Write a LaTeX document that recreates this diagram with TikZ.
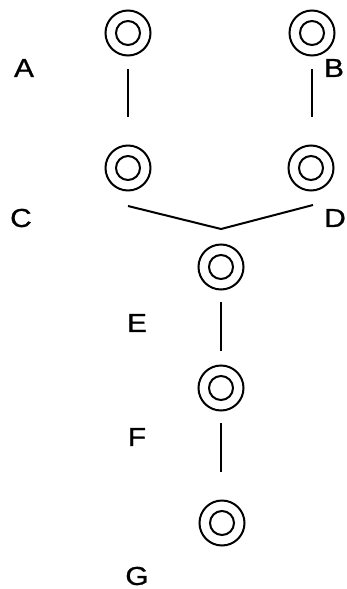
\documentclass[tikz,border=0pt]{standalone}
\usepackage{fontspec}
\setmainfont{Liberation Sans}
\newfontfamily\lblfont[FakeBold=0.8]{Liberation Sans}
\begin{document}
\begin{tikzpicture}[x=1pt,y=-1pt,
  ring/.style={circle,draw,line width=2pt,minimum size=45pt,inner sep=0pt,
    path picture={\draw[line width=2pt] (path picture bounding box.center) circle (12pt);}},
  lbl/.style={font=\lblfont\fontsize{26}{26}\selectfont,inner sep=0pt},
  conn/.style={line width=2pt}]
\useasboundingbox (0,0) rectangle (347,589);
\node[ring] (A) at (128,33) {};
\node[ring] (B) at (312,33) {};
\node[ring] (C) at (128,168) {};
\node[ring] (D) at (311,168) {};
\node[ring] (E) at (221,267) {};
\node[ring] (F) at (221,388) {};
\node[ring] (G) at (222,523) {};
\node[lbl] (la) at (24,68) {\scalebox{1.15}[1]{A}};
\node[lbl] (lb) at (334,68) {\scalebox{1.15}[1]{B}};
\node[lbl] (lc) at (21,218) {\scalebox{1.15}[1]{C}};
\node[lbl] (ld) at (335,218) {\scalebox{1.15}[1]{D}};
\node[lbl] (le) at (137,323) {\scalebox{1.15}[1]{E}};
\node[lbl] (lf) at (137,437) {\scalebox{1.15}[1]{F}};
\node[lbl] (lg) at (137,576) {\scalebox{1.15}[1]{G}};
\coordinate (a1) at (128,69); \coordinate (a2) at (128,117);
\coordinate (b1) at (312,69); \coordinate (b2) at (312,117);
\coordinate (c1) at (128,206); \coordinate (v) at (221,229); \coordinate (d1) at (313,205);
\coordinate (e1) at (221,302); \coordinate (e2) at (221,351);
\coordinate (f1) at (221,423); \coordinate (f2) at (221,472);
\draw[conn] (a1) -- (a2);
\draw[conn] (b1) -- (b2);
\draw[conn] (c1) -- (v) -- (d1);
\draw[conn] (e1) -- (e2);
\draw[conn] (f1) -- (f2);
\end{tikzpicture}
\end{document}
